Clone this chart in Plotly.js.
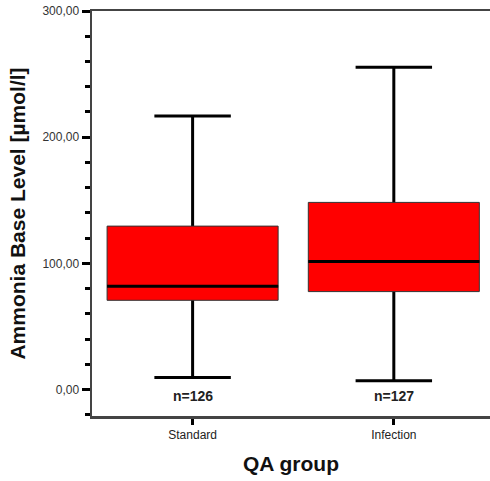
<!DOCTYPE html>
<html><head><meta charset="utf-8">
<script src="https://cdn.plot.ly/plotly-3.0.1.min.js"></script>
<style>html,body{margin:0;padding:0;background:#fff}</style>
</head><body><div id="chart" style="width:490px;height:481px"></div>
<script>
const categories = ["Standard", "Infection"];
const minVals = [9.5, 6.9];
const q1Vals = [70.7, 77.6];
const medianVals = [81.8, 101.4];
const q3Vals = [129.5, 148.3];
const maxVals = [216.8, 255.5];
const nLabels = ["n=126", "n=127"];

const BOXW = 0.85;
// whiskers (degenerate box at median, covered by box on top)
const whiskers = {
  type: 'box', x: categories,
  q1: medianVals, median: medianVals, q3: medianVals,
  lowerfence: minVals, upperfence: maxVals,
  width: BOXW, whiskerwidth: 0.447, boxpoints: false,
  line: {color: '#000', width: 3}, fillcolor: 'rgba(0,0,0,0)',
  hoverinfo: 'skip', showlegend: false
};
const boxes = {
  type: 'box', x: categories,
  q1: q1Vals, median: medianVals, q3: q3Vals,
  lowerfence: q1Vals, upperfence: q3Vals,
  width: BOXW, whiskerwidth: 0, boxpoints: false,
  line: {color: '#333', width: 1}, fillcolor: '#ff0000',
  hoverinfo: 'skip', showlegend: false
};
const medians = {
  type: 'box', x: categories,
  q1: medianVals, median: medianVals, q3: medianVals,
  lowerfence: medianVals, upperfence: medianVals,
  width: BOXW, whiskerwidth: 0, boxpoints: false,
  line: {color: '#000', width: 3}, fillcolor: 'rgba(0,0,0,0)',
  hoverinfo: 'skip', showlegend: false
};

const annotations = categories.map((c, i) => ({
  x: c, y: -5.5, xref: 'x', yref: 'y', text: nLabels[i], showarrow: false,
  font: {family: 'Liberation Sans, Arial, sans-serif', size: 14, color: '#222', weight: 'bold'},
  yanchor: 'middle'
}));

const layout = {
  width: 490, height: 481, autosize: false,
  margin: {l: 92, r: 0, t: 11, b: 65},
  paper_bgcolor: '#fff', plot_bgcolor: '#fff',
  separators: ',.',
  boxmode: 'overlay',
  showlegend: false,
  font: {family: 'Liberation Sans, Arial, sans-serif', color: '#333', size: 12},
  xaxis: {
    type: 'category', range: [-0.5, 1.478],
    showline: true, linecolor: '#444', linewidth: 2.5, mirror: true,
    ticks: 'outside', ticklen: 6, tickwidth: 3, tickcolor: '#000',
    showgrid: false, zeroline: false,
    tickfont: {size: 12, color: '#222'},
    title: {text: 'QA group', font: {size: 21, color: '#111', weight: 'bold'}, standoff: 16}
  },
  yaxis: {
    range: [-21, 300], tick0: 0, dtick: 100, tickformat: '.2f',
    showline: true, linecolor: '#444', linewidth: 2.5,
    ticks: 'outside', ticklen: 8, tickwidth: 3, tickcolor: '#000',
    minor: {dtick: 20, tick0: 0, ticks: 'outside', ticklen: 5, tickwidth: 3, tickcolor: '#000', showgrid: false},
    showgrid: false, zeroline: false,
    tickfont: {size: 12, color: '#333'},
    title: {text: 'Ammonia Base Level [µmol/l]', font: {size: 21, color: '#111', weight: 'bold'}, standoff: 11}
  },
  annotations: annotations
};

Plotly.newPlot('chart', [whiskers, boxes, medians], layout, {staticPlot: true, displayModeBar: false});
</script></body></html>
